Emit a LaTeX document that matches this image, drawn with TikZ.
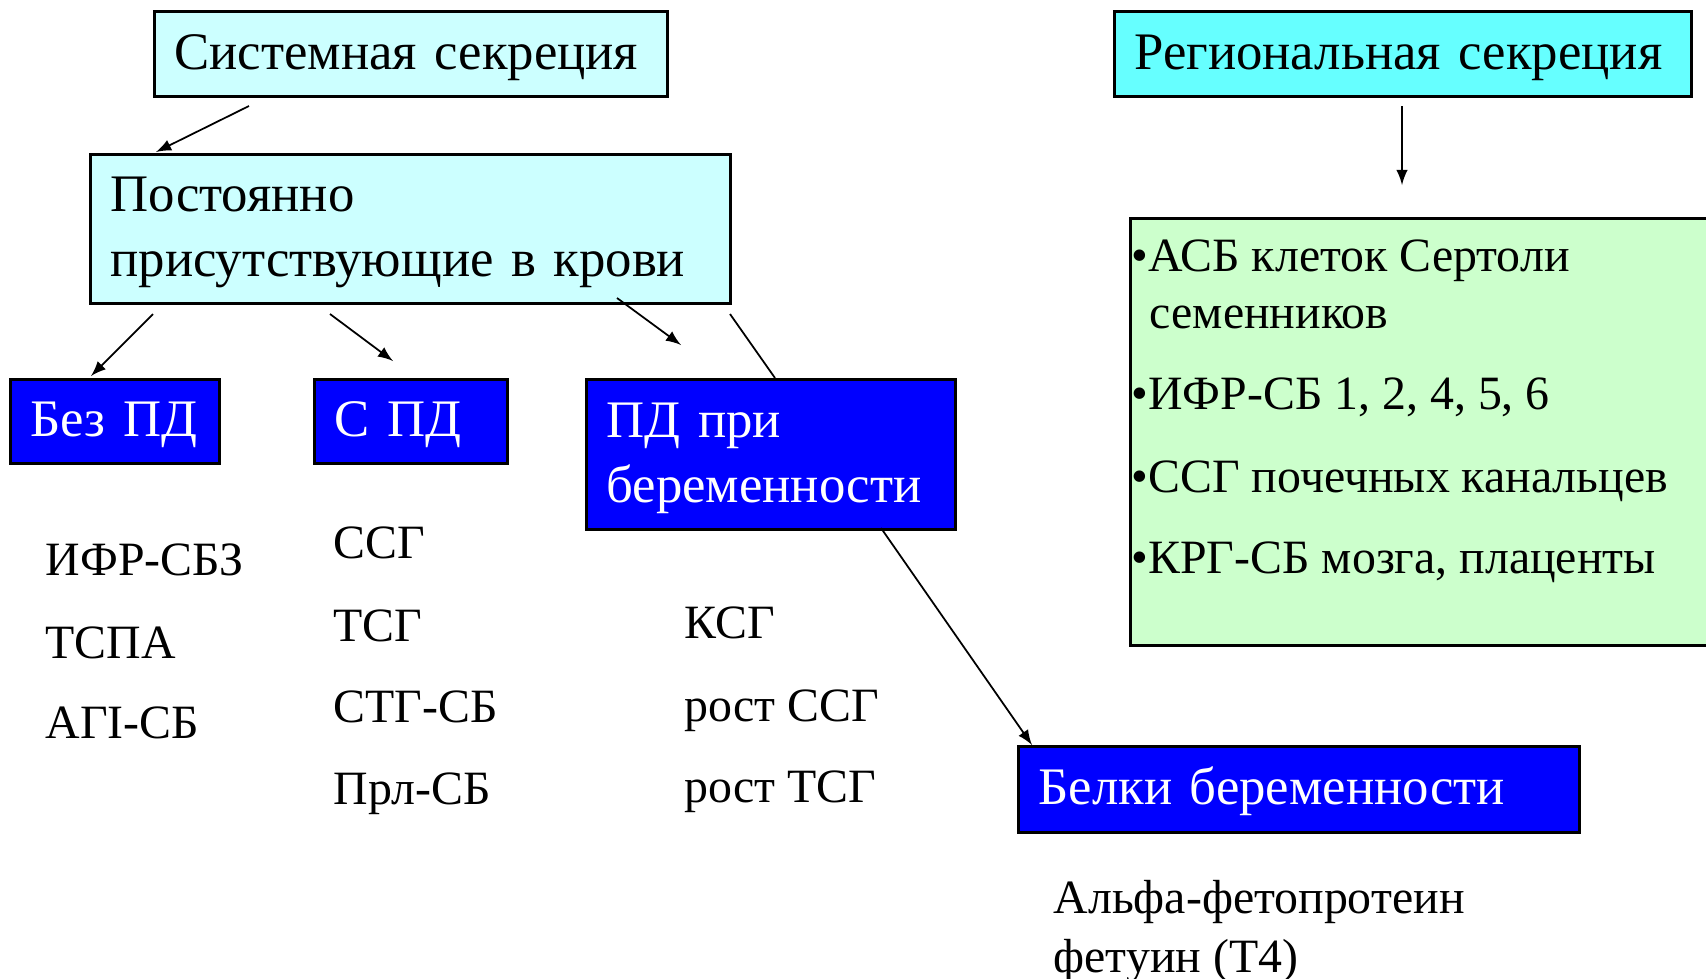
\documentclass[tikz,border=0pt]{standalone}
\usepackage{fontspec}
\setmainfont{Liberation Serif}
\usepackage{tikz}
\definecolor{sysfill}{HTML}{CCFFFF}
\definecolor{regfill}{HTML}{66FFFF}
\definecolor{listfill}{HTML}{CCFFCC}
\definecolor{pdfill}{HTML}{0000FF}
\tikzstyle{box}=[rectangle, draw=black, line width=0.8pt, anchor=north west, inner xsep=0.2cm, inner ysep=0pt, align=left, text height=0.8em]
\tikzstyle{light}=[box, fill=sysfill]
\tikzstyle{pd}=[box, fill=pdfill, text=white]
\tikzstyle{item}=[anchor=base west, inner sep=0pt, font=\fontsize{13.6}{16}\selectfont]
\tikzstyle{edge}=[->, line width=0.5pt, -latex]
\tikzstyle{plain}=[-, line width=0.5pt]

\begin{document}
\fontsize{15}{18.5}\selectfont
\begin{tikzpicture}[x=0.01cm, y=-0.01cm]
				\useasboundingbox (0,0) rectangle (1706,978);
				
				%The top boxes
				\draw (153,10) node[light, minimum width=5.13cm, minimum height=0.85cm, text width=4.73cm] (sys) {Системная секреция};
				\draw (1113,10) node[box, fill=regfill, minimum width=5.77cm, minimum height=0.85cm, text width=5.37cm] (reg) {Региональная секреция};
				\draw (89,153) node[light, minimum width=6.40cm, minimum height=1.49cm, text width=6.00cm] (post) {Постоянно\\присутствующие в крови};
				
				%The blue boxes
				\draw (9,378) node[pd, minimum width=2.09cm, minimum height=0.84cm, text width=1.69cm] (bez) {Без ПД};
				\draw (313,378) node[pd, minimum width=1.93cm, minimum height=0.84cm, text width=1.53cm] (spd) {С ПД};
				\draw (585,378) node[pd, minimum width=3.69cm, minimum height=1.50cm, text width=3.29cm] (preg) {ПД при\\беременности};
				\draw (1017,745) node[pd, minimum width=5.61cm, minimum height=0.86cm, text width=5.21cm] (belki) {Белки беременности};
				
				%The regional list
				\draw (1129,217) node[box, fill=listfill, minimum width=5.91cm, minimum height=4.27cm] (list) {};
				\draw (1131,271) node[item] (l1) {•АСБ клеток Сертоли};
				\draw (1149,328) node[item] (l1b) {семенников};
				\draw (1131,409) node[item] (l2) {•ИФР-СБ 1, 2, 4, 5, 6};
				\draw (1131,492) node[item] (l3) {•ССГ почечных канальцев};
				\draw (1131,573) node[item] (l4) {•КРГ-СБ мозга, плаценты};
				
				%The columns
				\draw (45,575) node[item] (b1) {ИФР-СБЗ};
				\draw (45,658) node[item] (b2) {ТСПА};
				\draw (45,738) node[item] (b3) {АГI-СБ};
				
				\draw (333,558) node[item] (s1) {ССГ};
				\draw (333,641) node[item] (s2) {ТСГ};
				\draw (333,722) node[item] (s3) {СТГ-СБ};
				\draw (333,804) node[item] (s4) {Прл-СБ};
				
				\draw (684,638) node[item] (p1) {КСГ};
				\draw (684,721) node[item] (p2) {рост ССГ};
				\draw (684,802) node[item] (p3) {рост ТСГ};
				
				\draw (1053,913) node[item] (f1) {Альфа-фетопротеин};
				\draw (1053,972) node[item] (f2) {фетуин (Т4)};
				
				%The arrow ends
				\coordinate (sys-out) at (249,106);
				\coordinate (post-in) at (156,152);
				\coordinate (reg-out) at (1402,106);
				\coordinate (list-in) at (1402,185);
				\coordinate (post-o1) at (153,314);
				\coordinate (bez-in) at (91,376);
				\coordinate (post-o2) at (330,314);
				\coordinate (spd-in) at (393,361);
				\coordinate (post-o3) at (617,298);
				\coordinate (preg-in) at (681,345);
				\coordinate (post-o4) at (730,314);
				\coordinate (preg-top) at (775,378);
				\coordinate (preg-out) at (881,528);
				\coordinate (belki-in) at (1032,745);
				
				\draw[edge] (sys-out) -- (post-in);
				\draw[edge] (reg-out) -- (list-in);
				\draw[edge] (post-o1) -- (bez-in);
				\draw[edge] (post-o2) -- (spd-in);
				\draw[edge] (post-o3) -- (preg-in);
				\draw[plain] (post-o4) -- (preg-top);
				\draw[edge] (preg-out) -- (belki-in);
			\end{tikzpicture}
\end{document}
